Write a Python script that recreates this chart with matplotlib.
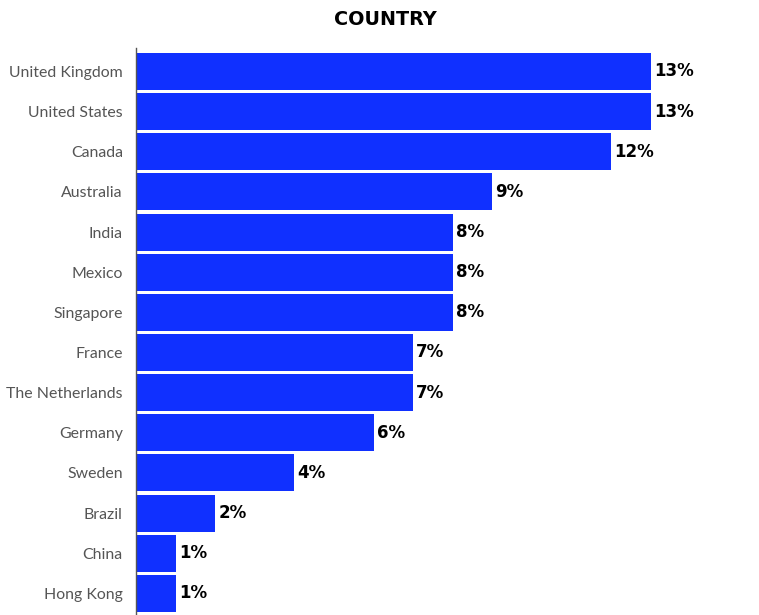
import matplotlib
matplotlib.use("Agg")
import matplotlib.pyplot as plt

countries = ["United Kingdom", "United States", "Canada", "Australia", "India",
             "Mexico", "Singapore", "France", "The Netherlands", "Germany",
             "Sweden", "Brazil", "China", "Hong Kong"]
values = [13, 13, 12, 9, 8, 8, 8, 7, 7, 6, 4, 2, 1, 1]
title = "COUNTRY"

fig = plt.figure(figsize=(7.59, 6.15), dpi=100)
left = 136 / 759
ax = fig.add_axes([left, 0.0, 0.98 - left, (615 - 48) / 615])

ypos = list(range(len(countries)))
ax.barh(ypos, values, height=0.92, color="#1030FF")
ax.set_ylim(13.54, -0.585)
px_per_unit = 39.6
axes_w_px = (0.98 - left) * 759
ax.set_xlim(0, axes_w_px / px_per_unit)

ax.set_yticks(ypos)
ax.set_yticklabels(countries, fontfamily="Lato", fontsize=11.4, color="#555555")
ax.tick_params(axis="y", length=0, pad=9.5)
ax.set_xticks([])
for s in ["top", "right", "bottom"]:
    ax.spines[s].set_visible(False)
ax.spines["left"].set_color("#555555")
ax.spines["left"].set_linewidth(1.0)

for y, v in zip(ypos, values):
    ax.text(v + 0.08, y, f"{v}%", va="center", ha="left",
            fontfamily="DejaVu Sans", fontweight="bold", fontsize=12, color="black")

fig.text(0.508, 0.968, title, ha="center", va="center",
         fontfamily="DejaVu Sans", fontweight="bold", fontsize=13.8, color="black")

fig.savefig("out.png", dpi=100)
